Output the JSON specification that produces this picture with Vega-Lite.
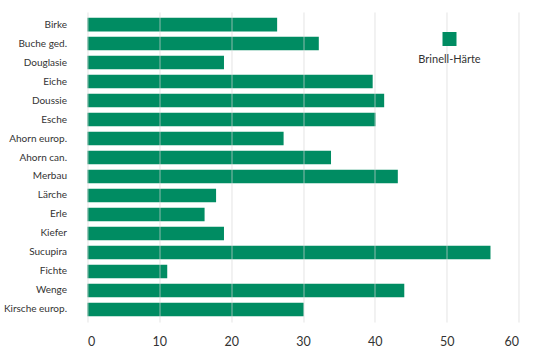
{
  "$schema": "https://vega.github.io/schema/vega-lite/v6.json",
  "autosize": {"type": "none"},
  "padding": {"left": 87.5, "top": 12, "right": 33.5, "bottom": 34},
  "width": 431,
  "height": 310,
  "background": "white",
  "config": {
    "font": "Lato",
    "view": {"stroke": null},
    "axis": {"labelFont": "Lato", "labelColor": "#333", "titleFont": "Lato"},
    "legend": {"labelFont": "Lato", "titleFont": "Lato"}
  },
  "data": {
    "values": [
      {"holz": "Birke", "wert": 26.4, "serie": "Brinell-Härte"},
      {"holz": "Buche ged.", "wert": 32.2, "serie": "Brinell-Härte"},
      {"holz": "Douglasie", "wert": 19.0, "serie": "Brinell-Härte"},
      {"holz": "Eiche", "wert": 39.7, "serie": "Brinell-Härte"},
      {"holz": "Doussie", "wert": 41.3, "serie": "Brinell-Härte"},
      {"holz": "Esche", "wert": 40.1, "serie": "Brinell-Härte"},
      {"holz": "Ahorn europ.", "wert": 27.3, "serie": "Brinell-Härte"},
      {"holz": "Ahorn can.", "wert": 33.9, "serie": "Brinell-Härte"},
      {"holz": "Merbau", "wert": 43.2, "serie": "Brinell-Härte"},
      {"holz": "Lärche", "wert": 17.9, "serie": "Brinell-Härte"},
      {"holz": "Erle", "wert": 16.3, "serie": "Brinell-Härte"},
      {"holz": "Kiefer", "wert": 19.0, "serie": "Brinell-Härte"},
      {"holz": "Sucupira", "wert": 56.1, "serie": "Brinell-Härte"},
      {"holz": "Fichte", "wert": 11.1, "serie": "Brinell-Härte"},
      {"holz": "Wenge", "wert": 44.1, "serie": "Brinell-Härte"},
      {"holz": "Kirsche europ.", "wert": 30.1, "serie": "Brinell-Härte"}
    ]
  },
  "mark": {"type": "bar"},
  "encoding": {
    "y": {
      "field": "holz",
      "type": "nominal",
      "sort": null,
      "scale": {"paddingInner": 0.28, "paddingOuter": 0.3},
      "axis": {"title": null, "ticks": false, "domain": false, "labelPadding": 21, "labelFontSize": 10, "grid": false}
    },
    "x": {
      "field": "wert",
      "type": "quantitative",
      "scale": {"domain": [0, 60], "nice": false},
      "axis": {"title": null, "ticks": false, "domain": false, "values": [0, 10, 20, 30, 40, 50, 60], "labelPadding": 13, "labelFontSize": 12.5, "grid": true, "gridColor": "#d6d6d6", "gridOpacity": 0.65, "zindex": 1, "labelColor": "#333"}
    },
    "color": {
      "field": "serie",
      "type": "nominal",
      "scale": {"range": ["#008c62"]},
      "legend": {
        "orient": "none",
        "legendX": 331,
        "legendY": 20,
        "zindex": 3,
        "title": "Brinell-Härte",
        "titleOrient": "bottom",
        "titleAnchor": "middle",
        "titleAlign": "center",
        "titleFontSize": 11,
        "titleFontWeight": "normal",
        "titleColor": "#333",
        "titlePadding": 8,
        "labelExpr": "''",
        "labelOffset": 0,
        "symbolType": "square",
        "symbolSize": 196,
        "symbolStrokeWidth": 0,
        "symbolOpacity": 1,
        "padding": 0
      }
    }
  }
}
